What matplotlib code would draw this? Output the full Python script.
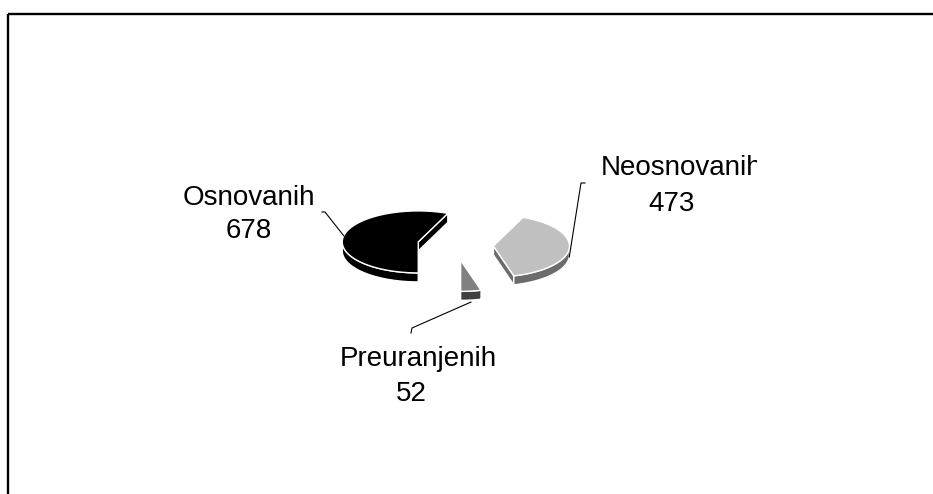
import numpy as np
import matplotlib
matplotlib.use('Agg')
import matplotlib.pyplot as plt
from matplotlib.patches import Polygon
from matplotlib.transforms import Bbox

# ---- data ----
categories = ['Osnovanih', 'Neosnovanih', 'Preuranjenih']
values = [678, 473, 52]
value_labels = ['678', '473', '52']

# ---- style ----
top_colors = ['#000000', '#c0c0c0', '#808080']
side_colors = ['#000000', '#6c6c6c', '#404040']

W, H = 933, 494
fig = plt.figure(figsize=(W / 100, H / 100), dpi=100)
ax = fig.add_axes([0, 0, 1, 1])
ax.set_xlim(0, W)
ax.set_ylim(H, 0)
ax.axis('off')

plt.rcParams['font.family'] = ['Liberation Sans', 'DejaVu Sans']

# frame (only top/left visible in the crop)
ax.plot([7.5, W + 5], [14.3, 14.3], color='black', lw=1.7, solid_capstyle='butt', zorder=1)
ax.plot([8.3, 8.3], [13.7, H + 5], color='black', lw=1.7, solid_capstyle='butt', zorder=1)

# pie geometry
cx, cy = 455.5, 245.0
rx, ry = 76.0, 31.0
depth = 9.0
explode = 0.5
start_angle = 270.0

total = float(sum(values))


def rim(apex, t, dz=0.0):
    tr = np.radians(t)
    return np.column_stack([apex[0] + rx * np.cos(tr),
                            apex[1] - ry * np.sin(tr) + dz])


slices = []
a = start_angle
for i, v in enumerate(values):
    hi = a
    lo = a - 360.0 * v / total
    a = lo
    mid = 0.5 * (lo + hi)
    mr = np.radians(mid)
    apex = (cx + explode * rx * np.cos(mr), cy - explode * ry * np.sin(mr))
    slices.append(dict(i=i, lo=lo, hi=hi, mid=mid, apex=apex))

ec = 'white'
elw = 1.0

for s in sorted(slices, key=lambda d: d['apex'][1]):
    i, lo, hi, apex = s['i'], s['lo'], s['hi'], s['apex']
    ax_pt = np.array([apex])
    z = 3 + i * 0.1
    # radial cut faces
    if np.cos(np.radians(lo)) > 1e-6:
        p = rim(apex, lo)
        poly = np.vstack([ax_pt, p, p + [0, depth], ax_pt + [0, depth]])
        ax.add_patch(Polygon(poly, closed=True, fc=side_colors[i], ec=ec, lw=elw, zorder=z))
    if np.cos(np.radians(hi)) < -1e-6:
        p = rim(apex, hi)
        poly = np.vstack([ax_pt, p, p + [0, depth], ax_pt + [0, depth]])
        ax.add_patch(Polygon(poly, closed=True, fc=side_colors[i], ec=ec, lw=elw, zorder=z))
    # outer wall (front half only)
    for k in range(-2, 3):
        s0 = max(lo, 180 + 360 * k)
        s1 = min(hi, 360 + 360 * k)
        if s1 > s0:
            ts = np.linspace(s0, s1, 60)
            top = rim(apex, ts)
            bot = rim(apex, ts[::-1], depth)
            ax.add_patch(Polygon(np.vstack([top, bot]), closed=True,
                                 fc=side_colors[i], ec=ec, lw=elw, zorder=z))
    # top face
    ts = np.linspace(lo, hi, 120)
    poly = np.vstack([ax_pt, rim(apex, ts)])
    ax.add_patch(Polygon(poly, closed=True, fc=top_colors[i], ec=ec, lw=elw, zorder=z + 0.05))

# labels
name_pos = [(249, 205), (681.5, 175), (418, 366)]
val_pos = [(249, 238), (672, 211), (411, 401)]
clip_right = [None, 757, None]
for i in range(len(categories)):
    t = ax.text(*name_pos[i], categories[i], fontsize=20, ha='center', va='baseline', zorder=10)
    if clip_right[i] is not None:
        t.set_clip_box(Bbox.from_extents(0, 0, clip_right[i], H))
        t.set_clip_on(True)
    ax.text(*val_pos[i], value_labels[i], fontsize=20, ha='center', va='baseline', zorder=10)

# leader lines: (tick start, tick end) then to slice point
leader_ticks = [((322, 212), (325, 212)), ((585, 183), (581, 183)), ((411, 333), (412, 328))]
leader_dz = [0.0, depth, depth + 2]
for s in slices:
    i = s['i']
    end = rim(s['apex'], s['mid'], leader_dz[i])[0]
    (x0, y0), (x1, y1) = leader_ticks[i]
    ax.plot([x0, x1, end[0]], [y0, y1, end[1]], color='black', lw=0.8, zorder=9)

fig.savefig('out.png', dpi=100)
